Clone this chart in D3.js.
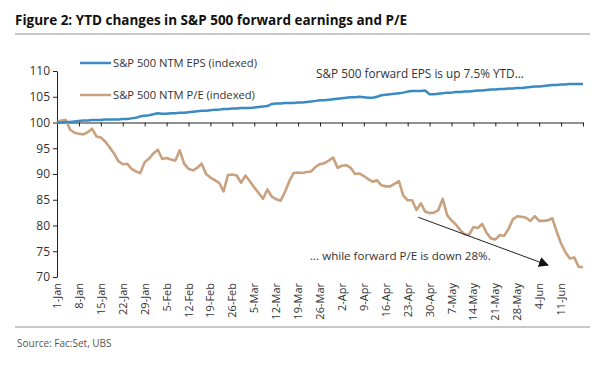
<!DOCTYPE html>
<meta charset='utf-8'>
<style>
  body { margin: 0; background: #fff; }
  text { font-family: 'Open Sans', sans-serif; }
</style>
<body>
<script src='https://d3js.org/d3.v7.min.js'></script>
<script>

var colors = { eps: '#3a8ac4', pe: '#c9a17f', text: '#333333', rule: '#c8c8c8' };
var width = 600, height = 375;

// trading days from 1-Jan, weekly labels
var xLabels = ['1-Jan', '8-Jan', '15-Jan', '22-Jan', '29-Jan', '5-Feb', '12-Feb', '19-Feb', '26-Feb',
  '5-Mar', '12-Mar', '19-Mar', '26-Mar', '2-Apr', '9-Apr', '16-Apr', '23-Apr', '30-Apr',
  '7-May', '14-May', '21-May', '28-May', '4-Jun', '11-Jun'];
var yTicks = [70, 75, 80, 85, 90, 95, 100, 105, 110];

var epsValues = [100.0, 100.0, 100.1, 100.1, 100.2, 100.3, 100.4, 100.4, 100.5, 100.5,
  100.5, 100.6, 100.6, 100.6, 100.6, 100.7, 100.7, 100.8, 100.9, 101.2,
  101.3, 101.4, 101.6, 101.8, 101.7, 101.7, 101.8, 101.8, 101.9, 101.9,
  102.0, 102.1, 102.2, 102.3, 102.3, 102.4, 102.5, 102.5, 102.6, 102.6,
  102.7, 102.7, 102.8, 102.8, 102.8, 102.9, 103.0, 103.1, 103.2, 103.6,
  103.7, 103.7, 103.8, 103.8, 103.8, 103.9, 103.9, 104.0, 104.1, 104.2,
  104.3, 104.3, 104.4, 104.5, 104.6, 104.7, 104.8, 104.9, 104.9, 105.0,
  104.9, 104.8, 104.8, 105.0, 105.3, 105.4, 105.5, 105.6, 105.7, 105.8,
  106.0, 106.1, 106.1, 106.1, 106.2, 105.5, 105.5, 105.6, 105.7, 105.8,
  105.8, 105.9, 105.9, 106.0, 106.0, 106.1, 106.2, 106.2, 106.3, 106.4,
  106.4, 106.5, 106.5, 106.6, 106.6, 106.7, 106.7, 106.8, 106.9, 107.0,
  107.0, 107.1, 107.2, 107.3, 107.3, 107.4, 107.4, 107.5, 107.5, 107.5, 107.5];

var peValues = [100.0, 100.4, 100.5, 98.6, 98.0, 97.8, 97.7, 98.1, 98.8, 97.3,
  97.1, 96.3, 95.2, 94.0, 92.5, 91.9, 92.0, 91.0, 90.5, 90.2,
  92.3, 93.0, 94.0, 94.7, 92.9, 93.1, 92.8, 92.6, 94.6, 92.0,
  91.0, 90.7, 91.2, 92.0, 90.0, 89.3, 88.8, 88.3, 86.6, 89.8,
  89.9, 89.7, 88.3, 89.7, 88.6, 87.4, 86.3, 85.2, 87.0, 85.6,
  85.1, 84.8, 86.5, 88.6, 90.2, 90.3, 90.2, 90.4, 90.5, 91.4,
  91.9, 92.1, 92.6, 93.2, 91.2, 91.6, 91.7, 91.2, 90.0, 90.1,
  89.6, 89.0, 88.5, 88.8, 87.8, 87.6, 87.6, 88.1, 88.6, 85.8,
  84.9, 84.9, 83.0, 84.3, 82.7, 82.4, 82.5, 83.0, 85.2, 82.0,
  81.0, 80.2, 79.1, 78.3, 78.2, 79.7, 79.5, 80.3, 78.6, 77.5,
  77.3, 78.1, 78.0, 79.3, 81.2, 81.8, 81.7, 81.5, 80.9, 81.8,
  80.9, 80.9, 81.0, 81.4, 78.8, 76.5, 74.8, 73.6, 73.8, 72.0, 71.9];

var svg = d3.select('body').append('svg')
    .attr('width', width)
    .attr('height', height);

var x = d3.scaleLinear().domain([0, epsValues.length - 1]).range([57, 583]);
var y = d3.scaleLinear().domain([70, 110]).range([277, 71]);

// title and rules
svg.append('text')
    .attr('x', 15).attr('y', 25)
    .attr('font-size', 13.5).attr('font-weight', 'bold')
    .attr('fill', '#111')
    .text('Figure 2: YTD changes in S&P 500 forward earnings and P/E');

svg.append('rect').attr('x', 15).attr('y', 33).attr('width', 575).attr('height', 2).attr('fill', colors.rule);
svg.append('rect').attr('x', 15).attr('y', 326).attr('width', 575).attr('height', 2).attr('fill', colors.rule);

svg.append('text')
    .attr('x', 17).attr('y', 347)
    .attr('font-size', 10).attr('fill', '#555')
    .text('Source: Fac:Set, UBS');

// y axis
var yAxis = svg.append('g')
    .attr('transform', 'translate(' + x(0) + ',0)')
    .call(d3.axisLeft(y).tickValues(yTicks).tickSize(4).tickSizeOuter(0));

// x axis sits on the 100 line
var xTicks = d3.range(0, epsValues.length, 5);
var xAxis = svg.append('g')
    .attr('transform', 'translate(0,' + y(100) + ')')
    .call(d3.axisBottom(x).tickValues(xTicks).tickSize(4).tickSizeOuter(0).tickFormat(''));

svg.selectAll('.domain, .tick line').attr('stroke', '#222');
yAxis.selectAll('text').attr('font-size', 12).attr('fill', colors.text).attr('font-family', "'Open Sans', sans-serif");

svg.append('g').selectAll('text')
    .data(xLabels)
    .enter()
    .append('text')
    .attr('transform', function(d, i) { return 'translate(' + (x(i * 5) + 4) + ',283) rotate(-90)'; })
    .attr('text-anchor', 'end')
    .attr('font-size', 11)
    .attr('fill', colors.text)
    .text(function(d) { return d; });

// lines
var line = d3.line()
    .x(function(d, i) { return x(i); })
    .y(function(d) { return y(d); });

svg.append('path')
    .datum(peValues)
    .attr('fill', 'none')
    .attr('stroke', colors.pe)
    .attr('stroke-width', 2.6)
    .attr('stroke-linejoin', 'round')
    .attr('d', line);

svg.append('path')
    .datum(epsValues)
    .attr('fill', 'none')
    .attr('stroke', colors.eps)
    .attr('stroke-width', 2.5)
    .attr('stroke-linejoin', 'round')
    .attr('d', line);

// legend
var legend = [
  { name: 'S&P 500 NTM EPS (indexed)', color: colors.eps, y: 63 },
  { name: 'S&P 500 NTM P/E (indexed)', color: colors.pe, y: 95 }
];
var lg = svg.append('g').selectAll('g').data(legend).enter().append('g');
lg.append('line')
    .attr('x1', 80).attr('x2', 111)
    .attr('y1', function(d) { return d.y; }).attr('y2', function(d) { return d.y; })
    .attr('stroke', function(d) { return d.color; })
    .attr('stroke-width', 2.5);
lg.append('text')
    .attr('x', 113).attr('y', function(d) { return d.y + 4; })
    .attr('font-size', 11.2).attr('fill', colors.text)
    .text(function(d) { return d.name; });

// annotations
svg.append('text')
    .attr('x', 316).attr('y', 78)
    .attr('font-size', 11.8).attr('fill', colors.text)
    .text('S&P 500 forward EPS is up 7.5% YTD...');

svg.append('text')
    .attr('x', 310).attr('y', 260)
    .attr('font-size', 11.6).attr('fill', colors.text)
    .text('... while forward P/E is down 28%.');

svg.append('defs').append('marker')
    .attr('id', 'arrow')
    .attr('viewBox', '0 0 10 10')
    .attr('refX', 9).attr('refY', 5)
    .attr('markerWidth', 10).attr('markerHeight', 10)
    .attr('markerUnits', 'userSpaceOnUse')
    .attr('orient', 'auto')
    .append('path')
    .attr('d', 'M0,0L10,5L0,10Z')
    .attr('fill', '#111');

svg.append('line')
    .attr('x1', x(82.4)).attr('y1', y(81.6))
    .attr('x2', x(112)).attr('y2', y(72.3))
    .attr('stroke', '#222')
    .attr('stroke-width', 1)
    .attr('marker-end', 'url(#arrow)');

</script>
</body>
